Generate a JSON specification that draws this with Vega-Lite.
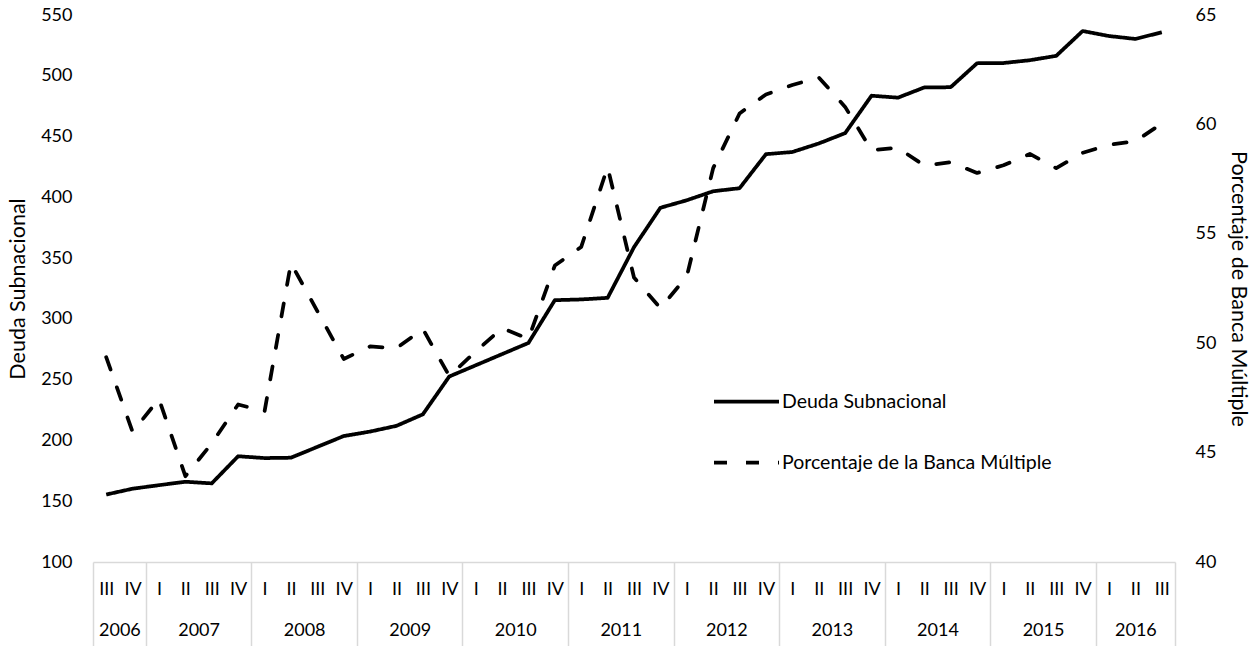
{
  "$schema": "https://vega.github.io/schema/vega-lite/v6.json",
  "width": 1082,
  "height": 547,
  "autosize": {"type": "none"},
  "padding": {"left": 93, "top": 15, "right": 80, "bottom": 84},
  "background": "white",
  "config": {
    "font": "Lato",
    "view": {"stroke": null},
    "axis": {"grid": false, "labelFont": "Lato", "labelFontSize": 18, "labelColor": "black", "titleFont": "Lato", "titleFontSize": 21.5, "titleFontWeight": "normal", "titleColor": "black"}
  },
  "datasets": {
    "serie": [
      {"idx": 0, "periodo": "2006-III", "deuda": 155.5, "porcentaje": 49.36},
      {"idx": 1, "periodo": "2006-IV", "deuda": 160.3, "porcentaje": 45.95},
      {"idx": 2, "periodo": "2007-I", "deuda": 163.2, "porcentaje": 47.45},
      {"idx": 3, "periodo": "2007-II", "deuda": 166.0, "porcentaje": 43.92},
      {"idx": 4, "periodo": "2007-III", "deuda": 164.7, "porcentaje": 45.42},
      {"idx": 5, "periodo": "2007-IV", "deuda": 187.0, "porcentaje": 47.2},
      {"idx": 6, "periodo": "2008-I", "deuda": 185.5, "porcentaje": 46.88},
      {"idx": 7, "periodo": "2008-II", "deuda": 185.8, "porcentaje": 53.66},
      {"idx": 8, "periodo": "2008-III", "deuda": 194.7, "porcentaje": 51.47},
      {"idx": 9, "periodo": "2008-IV", "deuda": 203.6, "porcentaje": 49.28},
      {"idx": 10, "periodo": "2009-I", "deuda": 207.3, "porcentaje": 49.85},
      {"idx": 11, "periodo": "2009-II", "deuda": 212.0, "porcentaje": 49.77},
      {"idx": 12, "periodo": "2009-III", "deuda": 221.5, "porcentaje": 50.65},
      {"idx": 13, "periodo": "2009-IV", "deuda": 252.6, "porcentaje": 48.5},
      {"idx": 14, "periodo": "2010-I", "deuda": 261.8, "porcentaje": 49.62},
      {"idx": 15, "periodo": "2010-II", "deuda": 271.0, "porcentaje": 50.69},
      {"idx": 16, "periodo": "2010-III", "deuda": 280.2, "porcentaje": 50.2},
      {"idx": 17, "periodo": "2010-IV", "deuda": 315.4, "porcentaje": 53.55},
      {"idx": 18, "periodo": "2011-I", "deuda": 316.0, "porcentaje": 54.4},
      {"idx": 19, "periodo": "2011-II", "deuda": 317.3, "porcentaje": 58.05},
      {"idx": 20, "periodo": "2011-III", "deuda": 359.0, "porcentaje": 53.0},
      {"idx": 21, "periodo": "2011-IV", "deuda": 391.4, "porcentaje": 51.6},
      {"idx": 22, "periodo": "2012-I", "deuda": 397.6, "porcentaje": 53.05},
      {"idx": 23, "periodo": "2012-II", "deuda": 405.0, "porcentaje": 58.0},
      {"idx": 24, "periodo": "2012-III", "deuda": 407.5, "porcentaje": 60.5},
      {"idx": 25, "periodo": "2012-IV", "deuda": 435.5, "porcentaje": 61.37},
      {"idx": 26, "periodo": "2013-I", "deuda": 437.3, "porcentaje": 61.8},
      {"idx": 27, "periodo": "2013-II", "deuda": 444.3, "porcentaje": 62.15},
      {"idx": 28, "periodo": "2013-III", "deuda": 452.8, "porcentaje": 60.8},
      {"idx": 29, "periodo": "2013-IV", "deuda": 483.6, "porcentaje": 58.82},
      {"idx": 30, "periodo": "2014-I", "deuda": 482.0, "porcentaje": 58.93},
      {"idx": 31, "periodo": "2014-II", "deuda": 490.4, "porcentaje": 58.12},
      {"idx": 32, "periodo": "2014-III", "deuda": 490.6, "porcentaje": 58.27},
      {"idx": 33, "periodo": "2014-IV", "deuda": 510.3, "porcentaje": 57.78},
      {"idx": 34, "periodo": "2015-I", "deuda": 510.5, "porcentaje": 58.13},
      {"idx": 35, "periodo": "2015-II", "deuda": 512.8, "porcentaje": 58.65},
      {"idx": 36, "periodo": "2015-III", "deuda": 516.4, "porcentaje": 58.0},
      {"idx": 37, "periodo": "2015-IV", "deuda": 536.8, "porcentaje": 58.7},
      {"idx": 38, "periodo": "2016-I", "deuda": 532.7, "porcentaje": 59.07},
      {"idx": 39, "periodo": "2016-II", "deuda": 530.3, "porcentaje": 59.23},
      {"idx": 40, "periodo": "2016-III", "deuda": 535.8, "porcentaje": 60.04}
    ],
    "limites": [
      {"b": -0.5}, {"b": 1.5}, {"b": 5.5}, {"b": 9.5}, {"b": 13.5}, {"b": 17.5},
      {"b": 21.5}, {"b": 25.5}, {"b": 29.5}, {"b": 33.5}, {"b": 37.5}, {"b": 40.5}
    ]
  },
  "layer": [
    {
      "data": {"name": "serie"},
      "mark": {"type": "line", "color": "black", "strokeWidth": 3.75, "strokeJoin": "round"},
      "encoding": {
        "x": {
          "field": "idx", "type": "quantitative",
          "scale": {"domain": [-0.5, 40.5], "nice": false, "zero": false},
          "axis": {
            "orient": "bottom", "title": null,
            "values": [0,1,2,3,4,5,6,7,8,9,10,11,12,13,14,15,16,17,18,19,20,21,22,23,24,25,26,27,28,29,30,31,32,33,34,35,36,37,38,39,40],
            "labelExpr": "['III','IV','I','II'][datum.value % 4]",
            "tickSize": 0, "labelPadding": 18, "labelFlush": false, "labelOverlap": false, "labelBound": false,
            "domainColor": "#d9d9d9", "domainWidth": 1.5
          }
        },
        "y": {
          "field": "deuda", "type": "quantitative",
          "scale": {"domain": [100, 550], "nice": false, "zero": false},
          "axis": {
            "orient": "left", "title": "Deuda Subnacional",
            "values": [100,150,200,250,300,350,400,450,500,550],
            "tickSize": 0, "domain": false, "labelPadding": 21, "titlePadding": 11
          }
        },
        "strokeDash": {
          "datum": "Deuda Subnacional",
          "scale": {"domain": ["Deuda Subnacional", "Porcentaje de la Banca Múltiple"], "range": [[1, 0], [13, 19]]},
          "legend": {
            "orient": "none", "legendX": 619, "legendY": 352, "title": null,
            "symbolType": "stroke", "symbolSize": 4225, "symbolStrokeWidth": 3.75, "symbolStrokeColor": "black",
            "labelFontSize": 19.5, "labelColor": "black", "labelFont": "Lato", "labelOffset": 1, "labelLimit": 0, "rowPadding": 17
          }
        }
      }
    },
    {
      "data": {"name": "serie"},
      "mark": {"type": "line", "color": "black", "strokeWidth": 3.75, "strokeCap": "round", "strokeJoin": "round"},
      "encoding": {
        "x": {
          "field": "idx", "type": "quantitative",
          "axis": {
            "orient": "bottom", "title": null,
            "values": [0.5, 3.5, 7.5, 11.5, 15.5, 19.5, 23.5, 27.5, 31.5, 35.5, 39],
            "labelExpr": "datum.value < 1 ? '2006' : toString(2007 + floor((datum.value - 1.5) / 4))",
            "tickSize": 0, "domain": false, "labelPadding": 59, "labelFlush": false, "labelOverlap": false, "labelBound": false
          }
        },
        "y": {
          "field": "porcentaje", "type": "quantitative",
          "scale": {"domain": [40, 65], "nice": false, "zero": false},
          "axis": {
            "orient": "right", "title": "Porcentaje de Banca Múltiple",
            "values": [40,45,50,55,60,65],
            "tickSize": 0, "domain": false, "labelPadding": 20, "titlePadding": 11
          }
        },
        "strokeDash": {"datum": "Porcentaje de la Banca Múltiple"}
      }
    },
    {
      "data": {"name": "limites"},
      "mark": {"type": "rule", "opacity": 0},
      "encoding": {
        "x": {
          "field": "b", "type": "quantitative",
          "axis": {
            "orient": "bottom", "title": null,
            "values": [-0.5, 1.5, 5.5, 9.5, 13.5, 17.5, 21.5, 25.5, 29.5, 33.5, 37.5, 40.5],
            "labels": false, "domain": false,
            "tickSize": 86, "tickColor": "#d9d9d9", "tickWidth": 1.5
          }
        }
      }
    }
  ],
  "resolve": {"scale": {"y": "independent"}, "axis": {"x": "independent"}}
}
